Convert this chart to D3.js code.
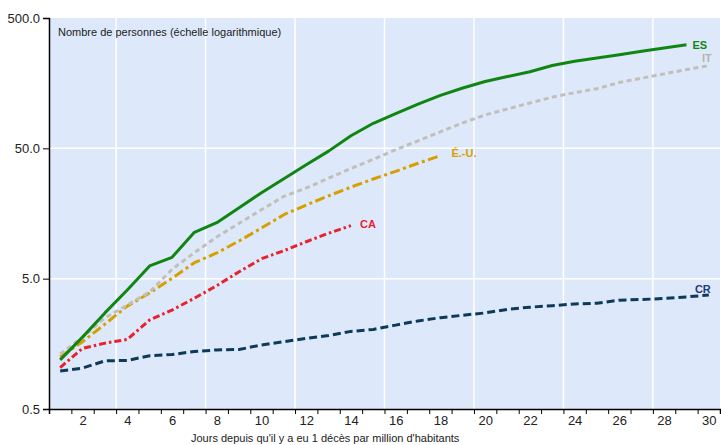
<!DOCTYPE html>
<html>
<head>
<meta charset="utf-8">
<script src="https://cdn.jsdelivr.net/npm/d3@7"></script>
<style>
  html, body { margin: 0; padding: 0; background: #ffffff; }
  svg { display: block; font-family: "Liberation Sans", Arial, sans-serif; }
</style>
</head>
<body>
<svg id="chart" width="721" height="445"></svg>
<script>
// Days since the first death per million inhabitants
const days = d3.range(1, 31);

// Deaths per million inhabitants (log scale), by country
const esValues = [1.19, 1.78, 2.73, 4.09, 6.26, 7.29, 11.35, 13.44, 17.52, 22.83,
                  29.24, 37.45, 47.6, 62.5, 77.8, 92.2, 109.3, 127.6, 145.2, 162.8,
                  177.6, 193.6, 216, 232.7, 246.7, 261.5, 277.7, 294.4, 312];
const itValues = [1.32, 1.78, 2.5, 3.14, 3.95, 5.9, 7.91, 10.44, 13.3, 16.9,
                  21.4, 24.8, 29.5, 35, 41.2, 48.8, 57.1, 67, 78.4, 90.2,
                  100.2, 111.4, 123.6, 133.7, 143.4, 160, 172.7, 186.3, 201.3, 215.3];
const usValues = [1.26, 1.64, 2.24, 3.08, 3.88, 5.03, 6.63, 7.87, 9.73, 12.24,
                  15.48, 18.37, 21.6, 25.2, 29.1, 33.3, 38.4, 43.9];
const caValues = [1.04, 1.46, 1.6, 1.71, 2.41, 2.87, 3.54, 4.42, 5.65, 7.11,
                  8.2, 9.6, 11.15, 12.75];
const crValues = [0.98, 1.03, 1.17, 1.18, 1.28, 1.31, 1.38, 1.42, 1.43, 1.55,
                  1.64, 1.74, 1.83, 1.97, 2.04, 2.2, 2.37, 2.51, 2.62, 2.73,
                  2.91, 3.02, 3.1, 3.2, 3.24, 3.42, 3.46, 3.52, 3.62, 3.75];

const yTicks = [0.5, 5, 50, 500];
const xTickLabels = d3.range(2, 31, 2);

const titleText = "Nombre de personnes (échelle logarithmique)";
const xAxisTitle = "Jours depuis qu'il y a eu 1 décès par million d'habitants";

const series = [
  { key: "CR", label: "CR",    values: crValues, color: "#0d3a57", labelColor: "#1e3b78", dash: "8,4",        dx: 2,  dy: -6, anchor: "end" },
  { key: "CA", label: "CA",    values: caValues, color: "#e8222c", labelColor: "#e8222c", dash: "7,3,2.5,3",  dx: 9,  dy: -2, anchor: "start" },
  { key: "US", label: "É.-U.", values: usValues, color: "#d6a000", labelColor: "#d6a000", dash: "10,3.5,3,3.5", dx: 11, dy: -3, anchor: "start" },
  { key: "IT", label: "IT",    values: itValues, color: "#c3bfb8", labelColor: "#b5b3b0", dash: "5,3.5",      dx: 3,  dy: -8, anchor: "end" },
  { key: "ES", label: "ES",    values: esValues, color: "#118512", labelColor: "#118512", dash: null,         dx: 6,  dy: 0,  anchor: "start" }
];

const svg = d3.select("#chart");
const margin = { left: 49, right: 1, top: 18, bottom: 36 };
const W = 721, H = 445;
const plotRight = W - margin.right;
const plotBottom = H - margin.bottom - 0; // 409

const x = d3.scaleLinear().domain([0.5, 30.5]).range([margin.left, plotRight]);
const y = d3.scaleLog().domain([0.5, 500]).range([409, margin.top]);

// Plot background
svg.append("rect")
  .attr("x", margin.left).attr("y", margin.top)
  .attr("width", plotRight - margin.left).attr("height", 409 - margin.top)
  .attr("fill", "#dde9fa");

// White grid lines
const grid = svg.append("g").attr("stroke", "#ffffff").attr("stroke-width", 1.5);
grid.selectAll("line.h").data([5, 50]).join("line")
  .attr("x1", margin.left).attr("x2", plotRight)
  .attr("y1", d => y(d)).attr("y2", d => y(d));
grid.selectAll("line.v").data(d3.range(3.5, 30, 4)).join("line")
  .attr("x1", d => x(d)).attr("x2", d => x(d))
  .attr("y1", margin.top).attr("y2", 409);

// Lines
const line = d3.line()
  .x((d, i) => x(days[i]))
  .y(d => y(d));

series.forEach(s => {
  svg.append("path")
    .datum(s.values)
    .attr("fill", "none")
    .attr("stroke", s.color)
    .attr("stroke-width", 3)
    .attr("stroke-linejoin", "round")
    .attr("stroke-dasharray", s.dash)
    .attr("d", line);
  const n = s.values.length;
  svg.append("text")
    .attr("x", x(days[n - 1]) + s.dx)
    .attr("y", y(s.values[n - 1]) + s.dy)
    .attr("dy", "0.35em")
    .attr("text-anchor", s.anchor)
    .attr("font-size", 11)
    .attr("font-weight", "bold")
    .attr("fill", s.labelColor)
    .text(s.label);
});

// Y axis
const yAxis = d3.axisLeft(y).tickValues(yTicks).tickSize(6).tickPadding(3)
  .tickFormat(d3.format(".1f"));
const yg = svg.append("g").attr("transform", `translate(${margin.left},0)`).call(yAxis);
yg.select(".domain").attr("stroke", "#000").attr("stroke-width", 1.5);
yg.selectAll(".tick line").attr("stroke", "#000");
yg.selectAll(".tick text").attr("font-size", 13).attr("fill", "#222")
  .attr("font-family", "Liberation Sans, Arial, sans-serif");

// X axis: tick marks between days, labels on even days
const xAxisMarks = d3.axisBottom(x).tickValues(d3.range(0.5, 31, 1)).tickSize(5).tickFormat("");
const xg = svg.append("g").attr("transform", "translate(0,409)").call(xAxisMarks);
xg.select(".domain").attr("stroke", "#000").attr("stroke-width", 1.5);
xg.selectAll(".tick line").attr("stroke", "#000");

const xAxisLabels = d3.axisBottom(x).tickValues(xTickLabels).tickSize(0).tickPadding(7);
const xl = svg.append("g").attr("transform", "translate(0,409)").call(xAxisLabels);
xl.select(".domain").remove();
xl.selectAll(".tick text").attr("font-size", 13).attr("fill", "#222")
  .attr("font-family", "Liberation Sans, Arial, sans-serif");

// Titles
svg.append("text")
  .attr("x", 58).attr("y", 36)
  .attr("font-size", 11).attr("fill", "#222")
  .text(titleText);

svg.append("text")
  .attr("x", 191).attr("y", 442)
  .attr("font-size", 11).attr("fill", "#222")
  .text(xAxisTitle);
</script>
</body>
</html>
